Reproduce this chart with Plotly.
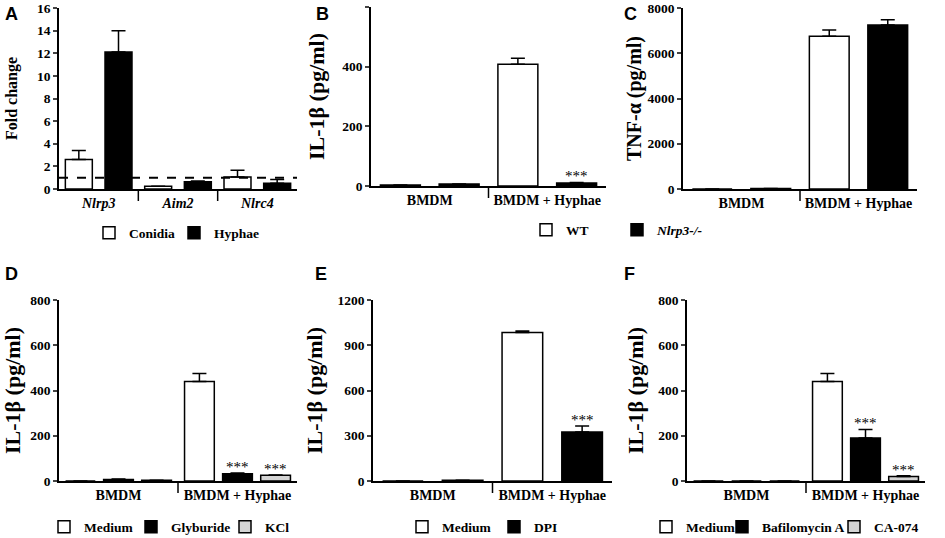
import plotly.graph_objects as go

# ---- data ----
# A: inflammasome gene expression
genes = ["<i>Nlrp3</i>", "<i>Aim2</i>", "<i>Nlrc4</i>"]
conidia = [2.6, 0.25, 1.05]
conidia_err = [0.8, 0.0, 0.6]
hyphae = [12.1, 0.65, 0.5]
hyphae_err = [1.9, 0.05, 0.35]
fold_baseline = 1

groups = ["BMDM", "BMDM + Hyphae"]

# B: IL-1b, WT vs Nlrp3-/-
b_wt = [3, 408]
b_wt_err = [0, 20]
b_ko = [7, 10]
b_ko_err = [0, 2]

# C: TNF-a, WT vs Nlrp3-/-
c_wt = [0, 6750]
c_wt_err = [0, 280]
c_ko = [20, 7250]
c_ko_err = [0, 230]

# D: Medium / Glyburide / KCl
d_med = [0, 440]
d_med_err = [0, 35]
d_gly = [7, 32]
d_gly_err = [2, 3]
d_kcl = [3, 25]
d_kcl_err = [0, 2]

# E: Medium / DPI
e_med = [0, 985]
e_med_err = [0, 10]
e_dpi = [5, 325]
e_dpi_err = [0, 40]

# F: Medium / Bafilomycin A / CA-074
f_med = [0, 440]
f_med_err = [0, 35]
f_baf = [0, 190]
f_baf_err = [0, 38]
f_ca = [0, 20]
f_ca_err = [0, 3]

W, H = 945, 538
SERIF = "Liberation Serif"
SANS = "Liberation Sans"

fig = go.Figure()

# panel boxes in pixels: (left, right, top, bottom)
boxes = {
    1: (59, 297, 8, 189),
    2: (371, 606, 7, 186),
    3: (683, 917, 8, 189),
    4: (59, 297, 300, 481),
    5: (373, 612, 300, 481),
    6: (687, 925, 300, 481),
}
# top, tick step, title, title size, title standoff
yaxes = {1: (16, 2, "Fold change", 16, 15), 2: (600, 200, "IL-1β (pg/ml)", 22, 12),
         3: (8000, 2000, "TNF-α (pg/ml)", 20, 1), 4: (800, 200, "IL-1β (pg/ml)", 22, 10),
         5: (1200, 300, "IL-1β (pg/ml)", 22, 9), 6: (800, 200, "IL-1β (pg/ml)", 22, 9)}

# one legend per entry so each box sits where the original has it: (left px, centre y px)
legpos = {
    "legend": (105, 233), "legend2": (190, 233),
    "legend3": (542, 230), "legend4": (633, 230),
    "legend5": (60, 527), "legend6": (147, 527), "legend7": (241, 527),
    "legend8": (418, 527), "legend9": (510, 527),
    "legend10": (662, 527), "legend11": (738, 527), "legend12": (850, 527),
}


def ax(n, kind):
    return kind if n == 1 else f"{kind}{n}"


def add_bars(n, cats, vals, errs, name, fill, center, width, legend=None):
    fig.add_trace(go.Bar(
        x=cats, y=vals, name=name,
        xaxis=ax(n, "x"), yaxis=ax(n, "y"),
        offset=center - width / 2, width=width,
        marker=dict(color=fill, line=dict(color="black", width=1.5)),
        error_y=dict(type="data", array=errs, arrayminus=[0] * len(errs), symmetric=False,
                     color="black", thickness=1.5, width=7),
        legend=legend or "legend", showlegend=legend is not None,
    ))


def stars(n, idx, center, top):
    fig.add_annotation(x=idx + center, y=top, xref=ax(n, "x"), yref=ax(n, "y"),
                       text="***", showarrow=False, yanchor="bottom", yshift=-4,
                       font=dict(family=SERIF, size=15, color="black"))


W2, C2 = 0.34, 0.25
W3, C3 = 0.25, 0.32

add_bars(1, genes, conidia, conidia_err, "Conidia", "white", -C2, W2, "legend")
add_bars(1, genes, hyphae, hyphae_err, "Hyphae", "black", C2, W2, "legend2")

add_bars(2, groups, b_wt, b_wt_err, "WT", "white", -C2, W2, "legend3")
add_bars(2, groups, b_ko, b_ko_err, "<i>Nlrp3-/-</i>", "black", C2, W2, "legend4")
stars(2, 1, C2, b_ko[1] + b_ko_err[1])

add_bars(3, groups, c_wt, c_wt_err, "WT", "white", -C2, W2)
add_bars(3, groups, c_ko, c_ko_err, "Nlrp3-/-", "black", C2, W2)

add_bars(4, groups, d_med, d_med_err, "Medium", "white", -C3, W3, "legend5")
add_bars(4, groups, d_gly, d_gly_err, "Glyburide", "black", 0, W3, "legend6")
add_bars(4, groups, d_kcl, d_kcl_err, "KCl", "#d4d4d4", C3, W3, "legend7")
stars(4, 1, 0, d_gly[1] + d_gly_err[1])
stars(4, 1, C3, d_kcl[1] + d_kcl_err[1])

add_bars(5, groups, e_med, e_med_err, "Medium", "white", -C2, W2, "legend8")
add_bars(5, groups, e_dpi, e_dpi_err, "DPI", "black", C2, W2, "legend9")
stars(5, 1, C2, e_dpi[1] + e_dpi_err[1])

add_bars(6, groups, f_med, f_med_err, "Medium", "white", -C3, W3, "legend10")
add_bars(6, groups, f_baf, f_baf_err, "Bafilomycin A", "black", 0, W3, "legend11")
add_bars(6, groups, f_ca, f_ca_err, "CA-074", "#d4d4d4", C3, W3, "legend12")
stars(6, 1, 0, f_baf[1] + f_baf_err[1])
stars(6, 1, C3, f_ca[1] + f_ca_err[1])

layout = {}
for n, (l, r, t, b) in boxes.items():
    top, dt, title, tsize, standoff = yaxes[n]
    ncat = 3 if n == 1 else 2
    layout["xaxis" if n == 1 else f"xaxis{n}"] = dict(
        domain=[l / W, r / W], anchor=ax(n, "y"), range=[-0.5, ncat - 0.5],
        showline=True, linecolor="black", linewidth=1.5, ticks="", showgrid=False,
        tickfont=dict(family=SERIF, size=14, color="black", weight="bold"),
        automargin=False,
    )
    layout["yaxis" if n == 1 else f"yaxis{n}"] = dict(
        domain=[1 - b / H, 1 - t / H], anchor=ax(n, "x"), range=[0, top], dtick=dt,
        showline=True, linecolor="black", linewidth=1.5, ticks="outside", ticklen=4,
        tickwidth=1.5, showgrid=False, zeroline=False, automargin=False,
        tickfont=dict(family=SERIF, size=13.5, color="black", weight="bold"),
        title=dict(text=title, standoff=standoff,
                   font=dict(family=SERIF, size=tsize, color="black", weight="bold")),
    )
    # group separators below the category axis
    for i in range(ncat - 1):
        fig.add_shape(type="line", xref=ax(n, "x"), yref=f"{ax(n, 'y')} domain",
                      x0=i + 0.5, x1=i + 0.5, y0=0, y1=-12 / (b - t),
                      line=dict(color="black", width=1.5))

fig.add_shape(type="line", xref="x domain", yref="y", x0=0, x1=1,
              y0=fold_baseline, y1=fold_baseline,
              line=dict(color="black", width=2, dash="dash"))

legfont = dict(family=SERIF, size=13.5, color="black", weight="bold")
for key, (lx, ly) in legpos.items():
    layout[key] = dict(orientation="h", x=(lx - 16) / W, y=1 - ly / H, xanchor="left",
                       yanchor="middle", font=legfont, bgcolor="rgba(0,0,0,0)",
                       itemwidth=30)

letters = {"A": (3, 2), "B": (314, 2), "C": (622, 2), "D": (3, 262), "E": (313, 262), "F": (622, 262)}
for txt, (lx, ly) in letters.items():
    fig.add_annotation(x=lx / W, y=1 - ly / H, xref="paper", yref="paper", text=f"<b>{txt}</b>",
                       showarrow=False, xanchor="left", yanchor="top",
                       font=dict(family=SANS, size=18, color="black"))

fig.update_layout(
    **layout,
    barmode="overlay",
    width=W, height=H,
    margin=dict(l=0, r=0, t=0, b=0, autoexpand=False),
    paper_bgcolor="white", plot_bgcolor="white",
)

# drop the browser's default page margin so the figure fills the window
fig.write_html("out.html", config={"displayModeBar": False},
               post_script="document.body.style.margin='0';")
